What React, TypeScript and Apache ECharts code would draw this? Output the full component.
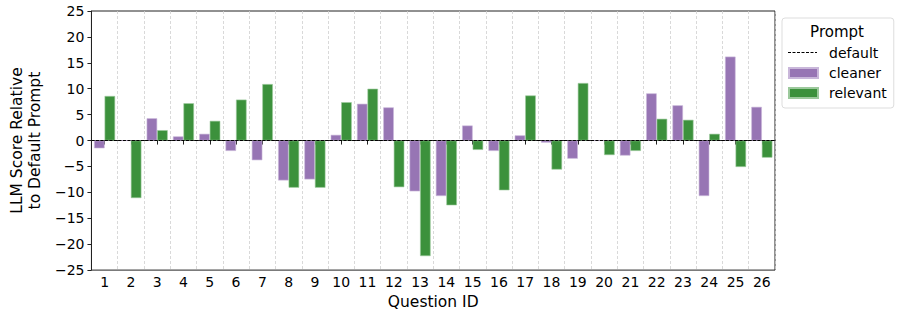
import React, { useEffect, useRef } from "react";
import * as echarts from "echarts";

const questionIds = ["1","2","3","4","5","6","7","8","9","10","11","12","13","14","15","16","17","18","19","20","21","22","23","24","25","26"];
const cleanerValues = [-1.5, 0, 4.3, 0.8, 1.3, -2.0, -3.8, -7.7, -7.5, 1.1, 7.1, 6.4, -9.8, -10.7, 2.9, -2.0, 1.0, -0.4, -3.5, 0, -2.9, 9.1, 6.8, -10.7, 16.2, 6.5];
const relevantValues = [8.6, -11.1, 2.0, 7.2, 3.8, 7.9, 10.9, -9.1, -9.1, 7.4, 10.0, -9.0, -22.3, -12.5, -1.8, -9.6, 8.7, -5.6, 11.1, -2.8, -2.0, 4.2, 4.0, 1.3, -5.1, -3.3];
const seriesNames = ["default", "cleaner", "relevant"];
const yTicks = { min: -25, max: 25, interval: 5 };

const FONT = "DejaVu Sans";

export default function App() {
  const ref = useRef<HTMLDivElement>(null);
  useEffect(() => {
    document.body.style.margin = "0";
    if (!ref.current) return;
    const chart = echarts.init(ref.current, undefined, { renderer: "svg" });
    chart.setOption({
      animation: false,
      textStyle: { fontFamily: FONT },
      grid: {
        left: 77,
        top: 11,
        width: 698,
        height: 261,
        show: true,
        borderColor: "#222",
        borderWidth: 1,
        backgroundColor: "transparent",
      },
      legend: {
        orient: "vertical",
        left: 782,
        top: 18,
        data: [
          { name: seriesNames[0], icon: "none" },
          { name: seriesNames[1], icon: "rect" },
          { name: seriesNames[2], icon: "rect" },
        ],
        itemWidth: 29,
        itemHeight: 10,
        itemGap: 4,
        padding: [27, 7, 7, 6],
        borderColor: "#ddd",
        borderWidth: 1,
        borderRadius: 3,
        backgroundColor: "#fff",
        textStyle: { fontFamily: FONT, fontSize: 14, color: "#000", lineHeight: 16, padding: [0, 0, 0, 6] },
      },
      graphic: [
        {
          type: "text",
          x: 837,
          y: 32,
          z: 100,
          style: {
            text: "Prompt",
            fontFamily: FONT,
            fontSize: 15,
            fill: "#000",
            textAlign: "center",
            textVerticalAlign: "middle",
          },
        },
        {
          type: "line",
          z: 100,
          shape: { x1: 788, y1: 52.5, x2: 817, y2: 52.5 },
          style: { stroke: "#000", lineWidth: 1, lineDash: [3, 1.5] },
        },
      ],
      xAxis: {
        type: "category",
        data: questionIds,
        boundaryGap: true,
        name: "Question ID",
        nameLocation: "middle",
        nameGap: 21,
        nameTextStyle: { fontFamily: FONT, fontSize: 15.5, color: "#000" },
        axisLine: { show: true, lineStyle: { color: "#222", width: 1 } },
        axisTick: { show: true, alignWithLabel: true, length: 4, lineStyle: { color: "#222" } },
        axisLabel: { fontFamily: FONT, fontSize: 14, color: "#000", margin: 5, interval: 0 },
        splitLine: { show: true, lineStyle: { color: "#cfcfcf", type: [3, 2], width: 0.8 } },
      },
      yAxis: {
        type: "value",
        min: yTicks.min,
        max: yTicks.max,
        interval: yTicks.interval,
        name: "LLM Score Relative\nto Default Prompt",
        nameLocation: "middle",
        nameGap: 36,
        nameTextStyle: { fontFamily: FONT, fontSize: 15.5, color: "#000", lineHeight: 18 },
        axisLine: { show: true, lineStyle: { color: "#222", width: 1 } },
        axisTick: { show: true, length: 4, lineStyle: { color: "#222" } },
        axisLabel: {
          fontFamily: FONT,
          fontSize: 14,
          color: "#000",
          margin: 7,
          formatter: (v: number) => String(v).replace("-", "\u2212"),
        },
        splitLine: { show: false },
      },
      series: [
        {
          name: "default",
          type: "line",
          data: [],
          symbol: "none",
          itemStyle: { color: "#000" },
          lineStyle: { color: "#000", width: 1, type: [3, 1.5] },
          markLine: {
            silent: true,
            symbol: ["none", "none"],
            label: { show: false },
            lineStyle: { color: "#000", width: 1, type: [3, 1.5] },
            data: [{ yAxis: 0 }],
          },
        },
        {
          name: "cleaner",
          type: "bar",
          data: cleanerValues,
          barGap: "0%",
          barCategoryGap: "20%",
          itemStyle: { color: "#9775b4", borderColor: "#c9b7da", borderWidth: 0.6 },
        },
        {
          name: "relevant",
          type: "bar",
          data: relevantValues,
          barGap: "0%",
          barCategoryGap: "20%",
          itemStyle: { color: "#3c913c", borderColor: "#9cc99c", borderWidth: 0.6 },
        },
      ],
    });
    return () => chart.dispose();
  }, []);
  return <div ref={ref} style={{ width: 897, height: 315 }} />;
}
